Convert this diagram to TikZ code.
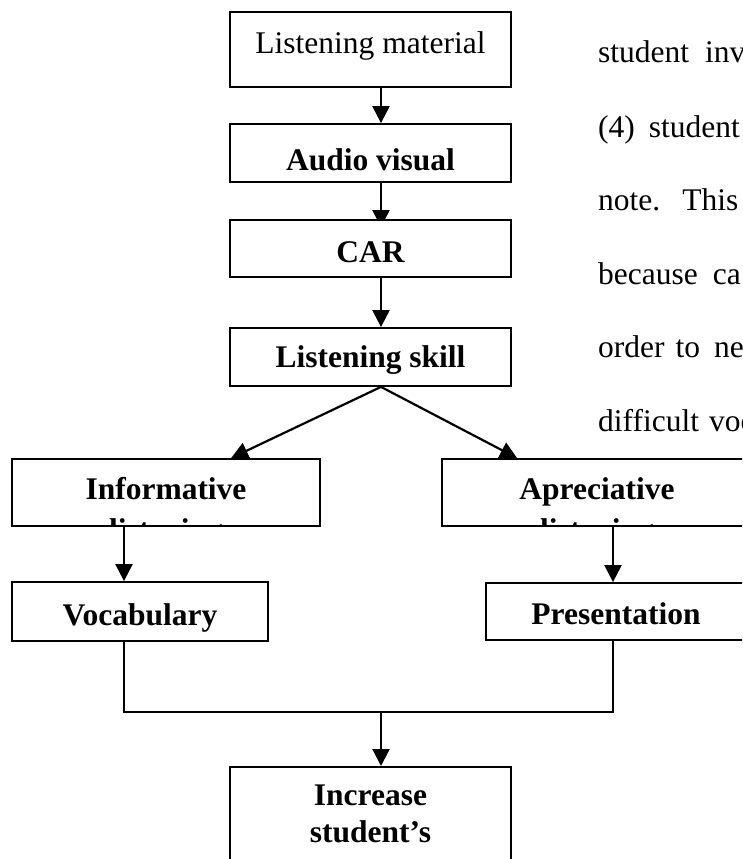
\documentclass[tikz,border=0pt]{standalone}
\usepackage{fontspec}
\setmainfont{Liberation Serif}
\usetikzlibrary{arrows.meta}
\pgfdeclarelayer{background}
\pgfsetlayers{background,main}
\newcommand{\fsz}{\fontsize{31.5pt}{37pt}\selectfont}
\begin{document}
\begin{tikzpicture}[x=1pt,y=-1pt,
  box/.style={draw, line width=1.8pt, fill=white, inner sep=0pt, font=\fsz\bfseries, text depth=7pt},
  bl/.style={text height=#1},
  arr/.style={line width=2.2pt, -{Triangle[length=17pt,width=17pt]}},
  conn/.style={line width=2.2pt},
  para/.style={font=\fsz, anchor=base west, inner sep=0pt},
  cliptext/.style={draw=none, fill=none, inner sep=0pt, minimum width=0pt, minimum height=0pt, text height=, text depth=, anchor=base, font=\fsz\bfseries}]
\useasboundingbox (0,0) rectangle (742,859);
\clip (0,0) rectangle (742,859);
\coordinate (colx) at (381,0);
\coordinate (vx) at (124,0);
\coordinate (px) at (613,0);
\coordinate (jn) at (381,712);
% boxes
\node[box, font=\fsz, bl=14pt, minimum width=281pt, minimum height=75pt] (lm) at (370.5,49.5) {Listening material};
\node[box, bl=41pt, minimum width=281pt, minimum height=58pt] (av) at (370.5,153) {Audio visual};
\node[box, bl=34pt, minimum width=281pt, minimum height=57pt] (car) at (370.5,248.5) {CAR};
\node[box, bl=27pt, minimum width=281pt, minimum height=58pt] (ls) at (370.5,357) {Listening skill};
\node[box, bl=20pt, minimum width=308pt, minimum height=67pt,
  path picture={\node[cliptext] at ([yshift=-47.5pt]path picture bounding box.center) {listening};}] (inf) at (166,492.5) {Informative};
\node[box, bl=20pt, minimum width=310pt, minimum height=67pt,
  path picture={\node[cliptext] at ([yshift=-47.5pt]path picture bounding box.center) {listening};}] (apr) at (597,492.5) {Apreciative};
\node[box, bl=34pt, minimum width=256pt, minimum height=59pt] (voc) at (140,611.5) {Vocabulary};
\node[box, bl=32pt, minimum width=260pt, minimum height=57pt] (pre) at (616,611.5) {Presentation};
\node[box, align=center, anchor=north, inner ysep=18pt, text height=, text depth=, minimum width=281pt] (inc) at (370.5,766) {Increase\\student’s};
% connectors
\draw[arr] (lm.south -| colx) -- (av.north -| colx);
\begin{pgfonlayer}{background}
\draw[arr, shorten >=-8pt] (av.south -| colx) -- (car.north -| colx);
\end{pgfonlayer}
\draw[arr] (car.south -| colx) -- (ls.north -| colx);
\draw[arr] (ls.south -| colx) -- ([xshift=220pt]inf.north west);
\draw[arr] (ls.south -| colx) -- ([xshift=76pt]apr.north west);
\draw[arr] (inf.south -| vx) -- (voc.north -| vx);
\draw[arr] (apr.south -| px) -- (pre.north -| px);
\draw[conn] (voc.south -| vx) -- (vx |- jn) -- (px |- jn) -- (pre.south -| px);
\draw[arr] (jn) -- (inc.north -| colx);
% running text on the right
\node[para] (t1) at (598,63) {student\hspace{16pt}inv};
\node[para] (t2) at (598,137) {(4)\hspace{14pt}student};
\node[para] (t3) at (598,210) {note.\hspace{22pt}This};
\node[para] (t4) at (598,284) {because\hspace{15pt}ca};
\node[para] (t5) at (598,357) {order\hspace{11pt}to\hspace{14pt}ne};
\node[para] (t6) at (598,431) {difficult\hspace{10pt}voc};
\end{tikzpicture}
\end{document}
